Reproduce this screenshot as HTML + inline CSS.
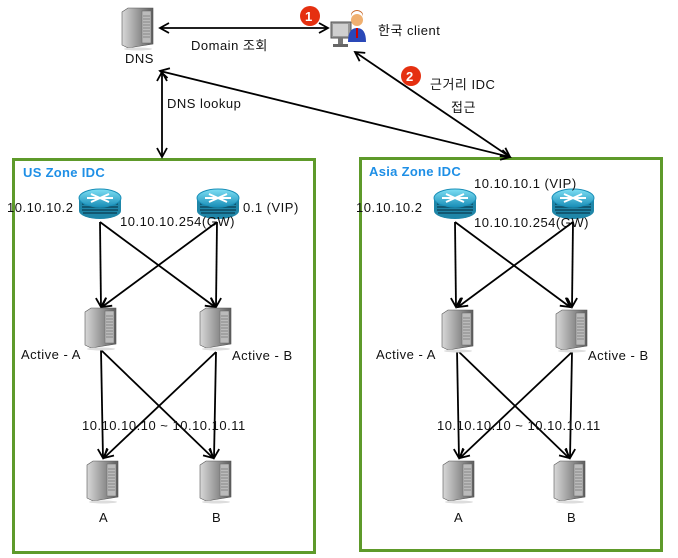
<!DOCTYPE html>
<html><head><meta charset="utf-8"><style>
html,body{margin:0;padding:0;background:#fff;}
svg{display:block;}
text{font-family:"Liberation Sans","Noto Sans CJK KR",sans-serif;font-size:13px;letter-spacing:0.5px;fill:#111;}
.z{fill:#1e8fe6;font-weight:bold;font-size:13px;letter-spacing:0.3px;}
</style></head><body>
<svg width="678" height="558" viewBox="0 0 678 558" xmlns="http://www.w3.org/2000/svg">
<defs>
<linearGradient id="sg" x1="0" x2="1"><stop offset="0" stop-color="#d8d8d8"/><stop offset="0.5" stop-color="#9a9a9a"/><stop offset="1" stop-color="#5e5e5e"/></linearGradient>
<linearGradient id="rg" x1="0" y1="0" x2="0" y2="1"><stop offset="0" stop-color="#7fe0f5"/><stop offset="1" stop-color="#1a8fb8"/></linearGradient>
<g id="srv">
<path d="M0,4 L6,0 L31,0 L31,36 L6,40 L0,37 Z" fill="url(#sg)" stroke="#555" stroke-width="0.6"/>
<rect x="20" y="3" width="9" height="32" fill="#bbb" stroke="#666" stroke-width="0.5"/>
<path d="M21,8h7M21,11h7M21,14h7M21,17h7M21,20h7M21,23h7M21,26h7M21,29h7" stroke="#777" stroke-width="0.8"/>
<ellipse cx="16" cy="41" rx="14" ry="1.5" fill="#ddd"/>
</g>
<g id="rtr">
<path d="M0,10 L0,23 A21,8 0 0 0 42,23 L42,10 Z" fill="#1f86a8"/>
<path d="M3,16h36M3,19h36M3,22h36M4,25h34" stroke="#0b3d52" stroke-width="1.2"/>
<ellipse cx="21" cy="10" rx="21" ry="9" fill="url(#rg)" stroke="#1a8fb8"/>
<path d="M12,6 L30,14 M30,6 L12,14 M8,10h26" stroke="#fff" stroke-width="2"/>
</g>
<marker id="ah" markerWidth="12" markerHeight="12" refX="10" refY="6" orient="auto-start-reverse" markerUnits="userSpaceOnUse">
<path d="M1,1 L10,6 L1,11" fill="none" stroke="#000" stroke-width="1.8"/>
</marker>
</defs>

<rect x="13.5" y="159.5" width="301" height="393" fill="none" stroke="#5e9a2a" stroke-width="3"/>
<rect x="360.5" y="158.5" width="301" height="392" fill="none" stroke="#5e9a2a" stroke-width="3"/>

<use href="#srv" x="122" y="8"/>
<text x="125" y="63">DNS</text>
<line x1="160" y1="28" x2="328" y2="28" stroke="#000" stroke-width="1.8" marker-start="url(#ah)" marker-end="url(#ah)"/>
<text x="191" y="50">Domain 조회</text>
<circle cx="310" cy="16" r="10" fill="#e53010"/>
<text x="305" y="21" style="fill:#fff;font-weight:bold;font-size:13px">1</text>
<rect x="331" y="22" width="20" height="16" fill="#999" stroke="#555"/>
<rect x="333" y="24" width="15" height="12" fill="#cfcfcf"/>
<rect x="338" y="38" width="5" height="6" fill="#777"/>
<rect x="333" y="44" width="15" height="3" fill="#666"/>
<circle cx="357" cy="20" r="6" fill="#f0b070"/>
<path d="M351,17 A6,6 0 0 1 363,17 L363,15 A6,5 0 0 0 351,15 Z" fill="#c8692a"/>
<path d="M348,42 Q348,28 357,28 Q366,28 366,42 Z" fill="#2a48b8"/>
<path d="M356,28 L358,28 L358,38 L356,38 Z" fill="#c00"/>
<text x="378" y="35">한국 client</text>

<line x1="162" y1="72" x2="162" y2="157" stroke="#000" stroke-width="1.8" marker-start="url(#ah)" marker-end="url(#ah)"/>
<text x="167" y="108">DNS lookup</text>
<line x1="160" y1="71" x2="510" y2="157" stroke="#000" stroke-width="1.8" marker-start="url(#ah)" marker-end="url(#ah)"/>
<line x1="355" y1="52" x2="510" y2="157" stroke="#000" stroke-width="1.8" marker-start="url(#ah)" marker-end="url(#ah)"/>
<circle cx="411" cy="76" r="10" fill="#e53010"/>
<text x="406" y="81" style="fill:#fff;font-weight:bold;font-size:13px">2</text>
<text x="430" y="89">근거리 IDC</text>
<text x="451" y="112">접근</text>

<text class="z" x="23" y="177">US Zone IDC</text>
<use href="#rtr" x="79" y="188"/>
<use href="#rtr" x="197" y="188"/>
<text x="7" y="212">10.10.10.2</text>
<text x="243" y="212">0.1 (VIP)</text>
<text x="120" y="226">10.10.10.254(GW)</text>
<g stroke="#000" stroke-width="1.8" marker-end="url(#ah)" fill="none">
<line x1="100" y1="222" x2="101" y2="307"/>
<line x1="100" y1="222" x2="215" y2="307"/>
<line x1="217" y1="222" x2="216" y2="307"/>
<line x1="217" y1="222" x2="102" y2="307"/>
<line x1="101" y1="350" x2="103" y2="458"/>
<line x1="101" y1="350" x2="213" y2="458"/>
<line x1="216" y1="352" x2="214" y2="458"/>
<line x1="216" y1="352" x2="104" y2="458"/>
</g>
<use href="#srv" x="85" y="308"/>
<use href="#srv" x="200" y="308"/>
<text x="21" y="359">Active - A</text>
<text x="232" y="360">Active - B</text>
<text x="82" y="430">10.10.10.10 ~ 10.10.10.11</text>
<use href="#srv" x="87" y="461"/>
<use href="#srv" x="200" y="461"/>
<text x="99" y="522">A</text>
<text x="212" y="522">B</text>

<text class="z" x="369" y="176">Asia Zone IDC</text>
<use href="#rtr" x="434" y="188"/>
<use href="#rtr" x="552" y="188"/>
<text x="356" y="212">10.10.10.2</text>
<text x="474" y="188">10.10.10.1 (VIP)</text>
<text x="474" y="227">10.10.10.254(GW)</text>
<g stroke="#000" stroke-width="1.8" marker-end="url(#ah)" fill="none">
<line x1="455" y1="222" x2="456" y2="307"/>
<line x1="455" y1="222" x2="570" y2="307"/>
<line x1="573" y1="222" x2="572" y2="307"/>
<line x1="573" y1="222" x2="458" y2="307"/>
<line x1="457" y1="350" x2="459" y2="458"/>
<line x1="457" y1="350" x2="569" y2="458"/>
<line x1="572" y1="352" x2="570" y2="458"/>
<line x1="572" y1="352" x2="460" y2="458"/>
</g>
<use href="#srv" x="442" y="310"/>
<use href="#srv" x="556" y="310"/>
<text x="376" y="359">Active - A</text>
<text x="588" y="360">Active - B</text>
<text x="437" y="430">10.10.10.10 ~ 10.10.10.11</text>
<use href="#srv" x="443" y="461"/>
<use href="#srv" x="554" y="461"/>
<text x="454" y="522">A</text>
<text x="567" y="522">B</text>
</svg>
</body></html>
